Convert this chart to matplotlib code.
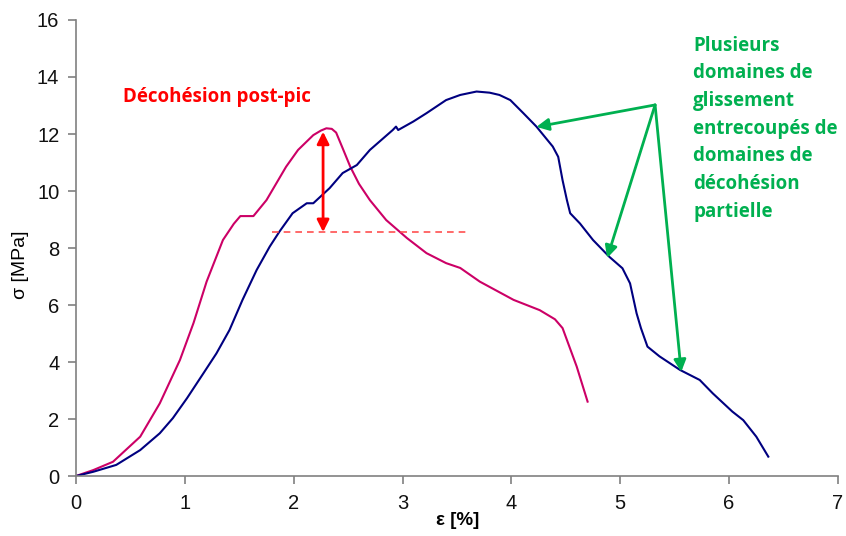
import matplotlib
matplotlib.use("Agg")
import matplotlib.pyplot as plt

# courbe rose (décohésion post-pic)
eps_pink = [0.0, 0.16, 0.34, 0.59, 0.77, 0.955, 1.08, 1.20, 1.35, 1.45, 1.51, 1.63, 1.75,
            1.93, 2.04, 2.18, 2.25, 2.30, 2.35, 2.39, 2.45, 2.52, 2.60, 2.70, 2.85, 3.04,
            3.22, 3.40, 3.53, 3.71, 4.02, 4.26, 4.40, 4.47, 4.60, 4.70]
sig_pink = [0.0, 0.21, 0.50, 1.38, 2.55, 4.07, 5.37, 6.82, 8.28, 8.85, 9.12, 9.12, 9.68,
            10.85, 11.44, 11.96, 12.12, 12.20, 12.18, 12.05, 11.50, 10.85, 10.25, 9.68, 8.98, 8.35,
            7.82, 7.47, 7.30, 6.82, 6.18, 5.82, 5.50, 5.19, 3.84, 2.61]

# courbe bleue (glissement)
eps_blue = [0.0, 0.16, 0.37, 0.59, 0.77, 0.89, 1.02, 1.17, 1.29, 1.41, 1.53, 1.66,
            1.78, 1.87, 1.99, 2.12, 2.18, 2.33, 2.45, 2.58, 2.70, 2.91, 2.94, 2.96,
            3.10, 3.22, 3.40, 3.53, 3.68, 3.80, 3.89, 3.99, 4.11, 4.23, 4.38, 4.43, 4.47,
            4.51, 4.54, 4.63, 4.75, 4.90, 5.02, 5.09, 5.15, 5.19, 5.25, 5.36, 5.55,
            5.73, 5.85, 6.03, 6.13, 6.25, 6.36]
sig_blue = [0.0, 0.15, 0.39, 0.91, 1.50, 2.03, 2.73, 3.60, 4.30, 5.12, 6.18, 7.23,
            8.05, 8.58, 9.22, 9.57, 9.57, 10.10, 10.63, 10.91, 11.44, 12.14, 12.26, 12.14,
            12.44, 12.73, 13.19, 13.37, 13.49, 13.45, 13.37, 13.19, 12.73, 12.26, 11.56, 11.20, 10.38,
            9.68, 9.22, 8.86, 8.28, 7.69, 7.29, 6.76, 5.71, 5.19, 4.54, 4.20, 3.72,
            3.37, 2.90, 2.26, 1.96, 1.38, 0.68]

# annotations
dash_x = [1.80, 3.59]
dash_y = 8.56
arrow_x = 2.27
arrow_y = [8.56, 12.08]
green_origin = (5.32, 13.02)
green_tips = [(4.23, 12.25), (4.88, 7.65), (5.56, 3.65)]

red = "#FF0000"
green = "#00B050"
gray = "#808080"

fig = plt.figure(figsize=(8.46, 5.36), dpi=100)
ax = fig.add_axes([0.0898, 0.1119, 0.9007, 0.8508])

ax.plot(eps_pink, sig_pink, color="#CC0066", lw=1.5)
ax.plot(eps_blue, sig_blue, color="#000080", lw=1.5)

ax.plot(dash_x, [dash_y, dash_y], color="#FF5050", lw=1.2, ls=(0, (4, 3)))
ax.annotate("", xy=(arrow_x, arrow_y[1]), xytext=(arrow_x, arrow_y[0]),
            arrowprops=dict(arrowstyle="<|-|>", color=red, lw=2,
                            mutation_scale=18, shrinkA=0, shrinkB=0))

for tip in green_tips:
    ax.annotate("", xy=tip, xytext=green_origin,
                arrowprops=dict(arrowstyle="-|>", color=green, lw=2,
                                mutation_scale=18, shrinkA=0, shrinkB=0))

ax.text(0.43, 13.3, "Décohésion post-pic", color=red, fontsize=13.5,
        fontweight="bold", family="Open Sans", va="center", ha="left")
ax.text(5.67, 15.45,
        "Plusieurs\ndomaines de\nglissement\nentrecoupés de\ndomaines de\ndécohésion\npartielle",
        color=green, fontsize=13.5, fontweight="bold", family="Open Sans",
        va="top", ha="left", linespacing=1.51)

ax.set_xlim(0, 7)
ax.set_ylim(0, 16)
ax.set_xticks(range(0, 8))
ax.set_yticks(range(0, 17, 2))
for s in ["top", "right"]:
    ax.spines[s].set_visible(False)
for s in ["left", "bottom"]:
    ax.spines[s].set_color(gray)
    ax.spines[s].set_linewidth(1.2)
ax.tick_params(direction="out", length=6, color=gray, width=1.2,
               labelsize=14.5, labelcolor="#111111")
ax.tick_params(axis="x", pad=7)
ax.tick_params(axis="y", pad=6)
for lab in ax.get_xticklabels() + ax.get_yticklabels():
    lab.set_family("Liberation Sans")

ax.set_xlabel("ε [%]", fontsize=13.5, fontweight="bold", family="Liberation Sans")
ax.xaxis.set_label_coords((458 - 76) / 762, -36 / 456)
ax.set_ylabel("σ [MPa]", fontsize=14, family="Liberation Sans")
ax.yaxis.set_label_coords(-47 / 762, 7.4 / 16)

fig.savefig("out.png", dpi=100)
